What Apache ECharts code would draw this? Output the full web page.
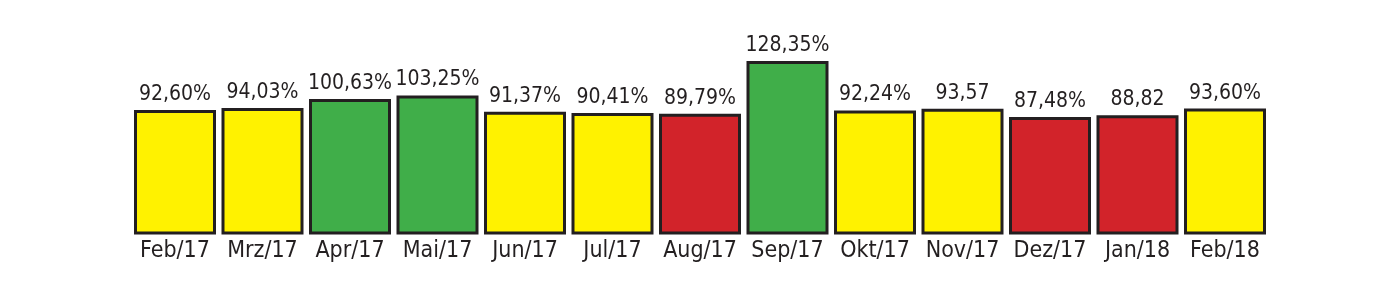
<!DOCTYPE html>
<html><head><meta charset="utf-8">
<script src="https://cdn.jsdelivr.net/npm/echarts@6/dist/echarts.min.js"></script>
<style>html,body{margin:0;padding:0;background:#fff}#c{width:1400px;height:307px}</style>
</head><body><div id="c"></div>
<script>
const categories = ['Feb/17','Mrz/17','Apr/17','Mai/17','Jun/17','Jul/17','Aug/17','Sep/17','Okt/17','Nov/17','Dez/17','Jan/18','Feb/18'];
const values = [92.60, 94.03, 100.63, 103.25, 91.37, 90.41, 89.79, 128.35, 92.24, 93.57, 87.48, 88.82, 93.60];
const labels = ['92,60%','94,03%','100,63%','103,25%','91,37%','90,41%','89,79%','128,35%','92,24%','93,57','87,48%','88,82','93,60%'];
const status = ['y','y','g','g','y','y','r','g','y','y','r','r','y'];
const palette = {y:'#FFF200', g:'#40AE49', r:'#D2232A'};

const chart = echarts.init(document.getElementById('c'), null, {renderer:'canvas'});
chart.setOption({
  animation:false,
  backgroundColor:'#fff',
  grid:{left:131.25, right:131.25, top:0, bottom:74},
  xAxis:{type:'category', data:categories,
    axisLine:{show:false}, axisTick:{show:false},
    axisLabel:{interval:0, color:'#231f20', fontFamily:'DejaVu Sans Condensed, DejaVu Sans', fontSize:23, margin:7}},
  yAxis:{type:'value', min:2.9, max:172.8, show:false, splitLine:{show:false}},
  series:[{type:'bar', barWidth:82,
    data: values.map((v,i)=>({value:v, itemStyle:{color:palette[status[i]]}})),
    itemStyle:{borderColor:'#231f20', borderWidth:3},
    label:{show:true, position:'top', distance:5, color:'#231f20',
      fontFamily:'DejaVu Sans Condensed, DejaVu Sans', fontSize:21,
      formatter:p=>labels[p.dataIndex]}
  }]
});
</script></body></html>
